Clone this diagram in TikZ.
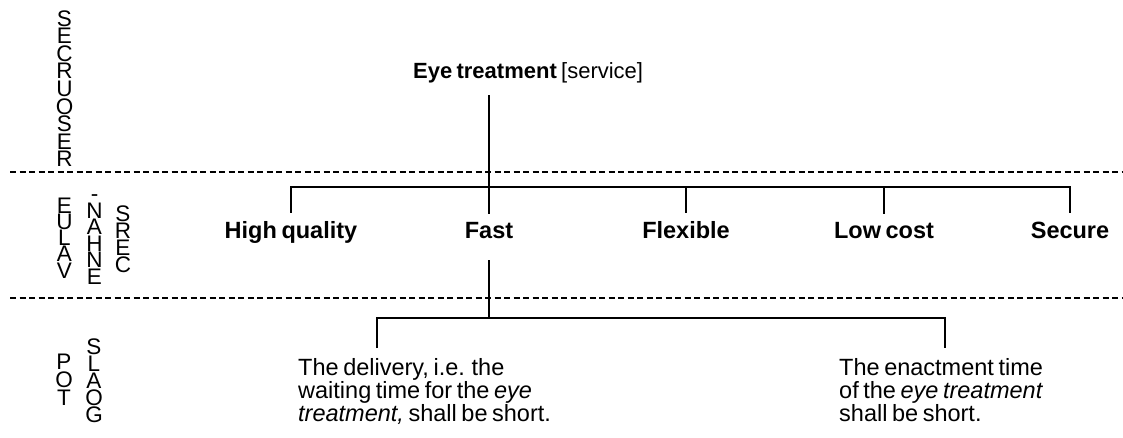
\documentclass[tikz,border=0pt]{standalone}
\usepackage{fontspec}
\setmainfont{Liberation Sans}[WordSpace=0.7]
\begin{document}
\begin{tikzpicture}[x=1pt,y=-1pt,
  conn/.style={line width=1.6pt},
  sepline/.style={line width=1.5pt, dash pattern=on 6pt off 3.5pt},
  lbl/.style={font=\fontsize{23.5}{27}\selectfont\bfseries, inner sep=0pt, anchor=base},
  ttl/.style={font=\fontsize{22}{26}\selectfont, inner sep=0pt, anchor=base west},
  para/.style={font=\fontsize{23.5}{23}\selectfont, align=left, inner sep=0pt, anchor=base west},
  vl/.style={font=\fontsize{22.5}{22.5}\selectfont, inner sep=0pt, anchor=base}]
\useasboundingbox (0,0) rectangle (1123,437);
\fill[white] (0,0) rectangle (1123,437);

% separators
\draw[sepline] (10,172) -- (1123,172);
\draw[sepline] (10,298) -- (1123,298);

% vertical stacked labels
\foreach \c [count=\i] in {S,E,C,R,U,O,S,E,R}
  \node[vl] (res\i) at (64.5,{26.3+17.55*(\i-1)}) {\c};
\foreach \c [count=\i] in {E,U,L,A,V}
  \node[vl] (val\i) at (64.5,{213+16.25*(\i-1)}) {\c};
\foreach \c [count=\i] in {-,N,A,H,N,E}
  \node[vl] (enh\i) at (94.5,{201.5+16.5*(\i-1)}) {\c};
\foreach \c [count=\i] in {S,R,E,C}
  \node[vl] (cer\i) at (123,{221.3+17*(\i-1)}) {\c};
\foreach \c [count=\i] in {P,O,T}
  \node[vl] (top\i) at (64,{369+18*(\i-1)}) {\c};
\foreach \c [count=\i] in {S,L,A,O,G}
  \node[vl] (goa\i) at (94,{354.3+17.05*(\i-1)}) {\c};

% title
\node[ttl] (title) at (413,78) {\textbf{Eye treatment} [service]};

% value enhancers
\node[lbl] (hq)   at (291,238.5) {High quality};
\node[lbl] (fast) at (489,238.5) {Fast};
\node[lbl] (flex) at (686,238.5) {Flexible};
\node[lbl] (low)  at (884,238.5) {Low cost};
\node[lbl] (sec)  at (1070,238.5) {Secure};

% top goals (base = baseline of last line)
\node[para] (p1) at (298,421) {The delivery, i.e. the\\waiting time for the \textit{eye}\\\textit{treatment,} shall be short.};
\node[para] (p2) at (839,421) {The enactment time\\of the \textit{eye treatment}\\shall be short.};

% connectors
\coordinate (ttop) at (489,95);
\draw[conn] (ttop) -- ([yshift=8.5pt]fast.north);
\draw[conn] ([yshift=8.5pt]hq.north) -- ++(0,-26) -| ([yshift=8.5pt]sec.north);
\draw[conn] ([yshift=8.5pt]flex.north) -- ++(0,-26);
\draw[conn] ([yshift=8.5pt]low.north) -- ++(0,-26);

\coordinate (bb) at (489,318);
\coordinate (d1) at (377,348);
\coordinate (d2) at (945,348);
\draw[conn] ([yshift=-21.5pt]fast.south) -- (bb);
\draw[conn] (d1) |- (bb) -| (d2);
\end{tikzpicture}
\end{document}
